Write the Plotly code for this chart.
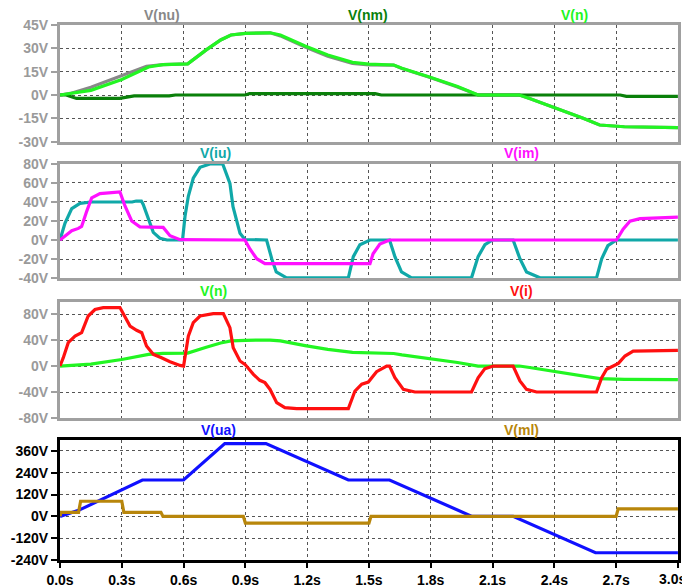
import plotly.graph_objects as go

# ---------------- data ----------------
t_n = [0, 0.15, 0.3, 0.43, 0.5, 0.62, 0.71, 0.78, 0.83, 0.9, 1.02, 1.07, 1.19, 1.3, 1.42, 1.5, 1.62, 1.66,
       1.79, 1.93, 2.03, 2.23, 2.28, 2.41, 2.54, 2.62, 2.74, 3.0]
v_n = [0, 3, 10, 18, 19.5, 20, 29, 35.4, 38.6, 39.6, 40, 38.6, 31.5, 25.7, 21, 19.9, 19.3, 17.2,
       11.8, 5.4, 0, 0, -2.3, -8.5, -15, -19.3, -20.4, -21]

t_nu = [0, 0.05, 0.15, 0.3, 0.42, 0.5, 0.62, 0.71, 0.78, 0.83, 0.9, 1.02, 1.07, 1.19, 1.3, 1.42, 1.5, 1.62,
        1.66, 1.79, 1.93, 2.03, 2.23, 2.28, 2.41, 2.54, 2.62, 2.74, 3.0]
v_nu = [0, 1, 5, 12.5, 18.5, 19.5, 20, 29, 35.4, 38.6, 39.6, 40, 38, 30.8, 25, 20.3, 19.3, 19.2,
        17, 11.6, 5.2, 0, 0, -2.3, -8.5, -15, -19.3, -20.4, -21]

t_nm = [0, 0.03, 0.08, 0.29, 0.36, 0.53, 0.56, 0.9, 0.92, 1.53, 1.56, 2.72, 2.75, 3.0]
v_nm = [0, 0, -2.2, -2.2, -0.6, -0.6, 0, 0, 0.9, 0.9, 0, 0, -0.9, -0.9]

t_iu = [0, 0.024, 0.057, 0.097, 0.15, 0.35, 0.37, 0.395, 0.404, 0.429, 0.453, 0.485, 0.52, 0.595, 0.607,
        0.623, 0.647, 0.68, 0.728, 0.79, 0.809, 0.825, 0.84, 0.874, 0.898, 1.003, 1.028, 1.05, 1.1, 1.4,
        1.424, 1.456, 1.505, 1.6, 1.626, 1.658, 1.707, 1.998, 2.03, 2.063, 2.1, 2.2, 2.233, 2.265, 2.33,
        2.605, 2.63, 2.66, 2.702, 3.0]
v_iu = [0, 17.6, 33, 38.6, 40, 40, 41, 41, 37.4, 21.8, 8, 1.8, 0, 0, 25,
        46, 65, 76.5, 80, 80, 70, 59.6, 35, 7, 0.5, 0, -19.7, -33.6, -39.8, -39.8,
        -17.5, -5, 0, 0, -17.5, -33.6, -39.8, -39.8, -17.5, -5, 0, 0, -19.7, -33.6, -39.8,
        -39.8, -19.7, -6, 0, 0]

t_im = [0, 0.024, 0.057, 0.089, 0.105, 0.13, 0.154, 0.194, 0.291, 0.316, 0.348, 0.388, 0.501, 0.534,
        0.583, 0.898, 0.922, 0.955, 0.995, 1.505, 1.52, 1.553, 1.6, 2.702, 2.734, 2.767, 2.816, 3.0]
v_im = [0, 4.5, 9.7, 12.2, 14.2, 30.4, 44.4, 48.8, 50.6, 35.6, 20, 13.8, 13.2, 4.5,
        0.3, 0, -9.4, -19.7, -24.9, -24.9, -14.5, -4.2, 0, 0, 11.4, 19.7, 22.5, 24]

t_i = [0, 0.016, 0.04, 0.073, 0.105, 0.137, 0.17, 0.21, 0.291, 0.316, 0.34, 0.372, 0.397, 0.42, 0.453,
       0.493, 0.534, 0.583, 0.6, 0.623, 0.647, 0.68, 0.744, 0.793, 0.825, 0.841, 0.874, 0.898, 0.939,
       0.97, 0.995, 1.02, 1.052, 1.092, 1.149, 1.4, 1.432, 1.465, 1.497, 1.537, 1.586, 1.6, 1.626, 1.667,
       1.723, 1.998, 2.03, 2.063, 2.104, 2.2, 2.233, 2.265, 2.314, 2.605, 2.63, 2.654, 2.687, 2.711,
       2.743, 2.783, 3.0]
v_i = [0, 12.8, 36, 46, 51.3, 77, 87, 89.8, 90, 74.4, 61.5, 55, 51.3, 30.8, 18,
       12.8, 6.7, 1, 0, 46, 66.7, 77, 80.6, 80.6, 59, 28, 7.7, 2.6, -12.8,
       -22, -25.6, -36, -56.4, -64, -65.6, -65.6, -38.5, -28, -24.6, -8.7, 0, 0, -18, -36,
       -40, -40, -18, -4, 0, 0, -23, -36, -40, -40, -18, -5, 0, 4,
       15.4, 23, 24]

t_ua = [0, 0.09, 0.4, 0.6, 0.8, 1.0, 1.4, 1.6, 2.0, 2.2, 2.6, 3.0]
v_ua = [0, 33, 200, 200, 400, 400, 200, 200, 0, 0, -200, -200]

t_ml = [0, 0.005, 0.09, 0.1, 0.3, 0.31, 0.49, 0.5, 0.89, 0.9, 1.5, 1.51, 2.7, 2.71, 3.0]
v_ml = [0, 22, 22, 83, 83, 22, 22, 0, 0, -37, -37, 0, 0, 41, 41]

x_ticks = [0.0, 0.3, 0.6, 0.9, 1.2, 1.5, 1.8, 2.1, 2.4, 2.7, 3.0]
x_labels = ["0.0s", "0.3s", "0.6s", "0.9s", "1.2s", "1.5s", "1.8s", "2.1s", "2.4s", "2.7s", "3.0s"]
y1_ticks = [45, 30, 15, 0, -15, -30]
y2_ticks = [80, 60, 40, 20, 0, -20, -40]
y3_ticks = [80, 40, 0, -40, -80]
y4_ticks = [360, 240, 120, 0, -120, -240]

# ---------------- colours ----------------
C_N = "#22f522"
C_NU = "#888888"
C_NM = "#0a800a"
C_IU = "#10a8a8"
C_IM = "#ff10ff"
C_I = "#ff1010"
C_UA = "#1010ff"
C_ML = "#b8860b"

fig = go.Figure()
LW = 3.2


def add(t, v, color, idx):
    fig.add_trace(go.Scatter(x=t, y=v, mode="lines", line=dict(color=color, width=LW),
                             xaxis="x" if idx == 1 else f"x{idx}",
                             yaxis="y" if idx == 1 else f"y{idx}",
                             showlegend=False, hoverinfo="skip"))


add(t_nu, v_nu, C_NU, 1)
add(t_nm, v_nm, C_NM, 1)
add(t_n, v_n, C_N, 1)
add(t_iu, v_iu, C_IU, 2)
add(t_im, v_im, C_IM, 2)
add(t_n, v_n, C_N, 3)
add(t_i, v_i, C_I, 3)
add(t_ua, v_ua, C_UA, 4)
add(t_ml, v_ml, C_ML, 4)

domains = [[0.7819, 1.0], [0.5271, 0.7402], [0.2654, 0.4828], [0.0, 0.2243]]
yranges = [[-30, 45], [-40, 80], [-80, 99], [-240, 420]]
yticks = [y1_ticks, y2_ticks, y3_ticks, y4_ticks]
GRAY = "#a0a0a0"
LBL_GRAY = "#9a9a9a"
FONT = "Liberation Sans, Arial, sans-serif"

# last x label is placed as an annotation (it touches the right page edge)
bottom_ticktext = x_labels[:-1] + [""]

# the page body has an 8px margin, so the figure is 8px smaller and offset
layout = dict(
    width=682, height=580,
    margin=dict(l=52, r=12, t=17, b=28, autoexpand=False),
    paper_bgcolor="white", plot_bgcolor="white",
    showlegend=False,
)
for k in range(4):
    sfx = "" if k == 0 else str(k + 1)
    frame = "black" if k == 3 else GRAY
    lblc = "black" if k == 3 else LBL_GRAY
    layout["xaxis" + sfx] = dict(
        domain=[0, 1], range=[0, 3.0005], anchor="y" + sfx, automargin=False,
        tickvals=x_ticks, ticktext=bottom_ticktext if k == 3 else [""] * len(x_ticks),
        showticklabels=(k == 3),
        ticks="outside" if k == 3 else "", ticklen=5, tickwidth=2, tickcolor="black",
        tickfont=dict(family=FONT, size=14, color="black", weight="bold"),
        showgrid=True, gridcolor="#555555", griddash="dot", gridwidth=1,
        showline=True, linecolor=frame, linewidth=3, mirror=True,
        zeroline=False, fixedrange=True,
    )
    layout["yaxis" + sfx] = dict(
        domain=domains[k], range=yranges[k], anchor="x" + sfx, automargin=False,
        tickvals=yticks[k], ticktext=[f"{v}V" for v in yticks[k]],
        ticks="outside", ticklen=6, tickwidth=2, tickcolor=frame,
        tickfont=dict(family=FONT, size=14, color=lblc, weight="bold"),
        showgrid=True, gridcolor="#555555", griddash="dot", gridwidth=1,
        showline=True, linecolor=frame, linewidth=3, mirror=True,
        zeroline=False, fixedrange=True,
    )
fig.update_layout(**layout)

fig.add_annotation(
    text=x_labels[-1], xref="paper", yref="paper",
    x=(687 - 60) / 618, y=(560 - 570) / 535,
    xanchor="right", yanchor="top", showarrow=False, borderpad=0,
    font=dict(family=FONT, size=14, color="black", weight="bold"),
)

# trace name labels above panels (page pixel positions)
labels = [
    ("V(nu)", C_NU, 162, 15), ("V(nm)", C_NM, 368, 15), ("V(n)", C_N, 574, 15),
    ("V(iu)", C_IU, 215, 153), ("V(im)", C_IM, 521, 153),
    ("V(n)", C_N, 213, 291), ("V(i)", C_I, 521, 291),
    ("V(ua)", C_UA, 218, 430), ("V(ml)", C_ML, 521, 430),
]
for txt, col, px, py in labels:
    fig.add_annotation(
        text=txt, xref="paper", yref="paper",
        x=(px - 60) / 618, y=(560 - py) / 535,
        xanchor="center", yanchor="middle", showarrow=False,
        font=dict(family=FONT, size=14, color=col, weight="bold"),
    )

fig.write_html("out.html")
